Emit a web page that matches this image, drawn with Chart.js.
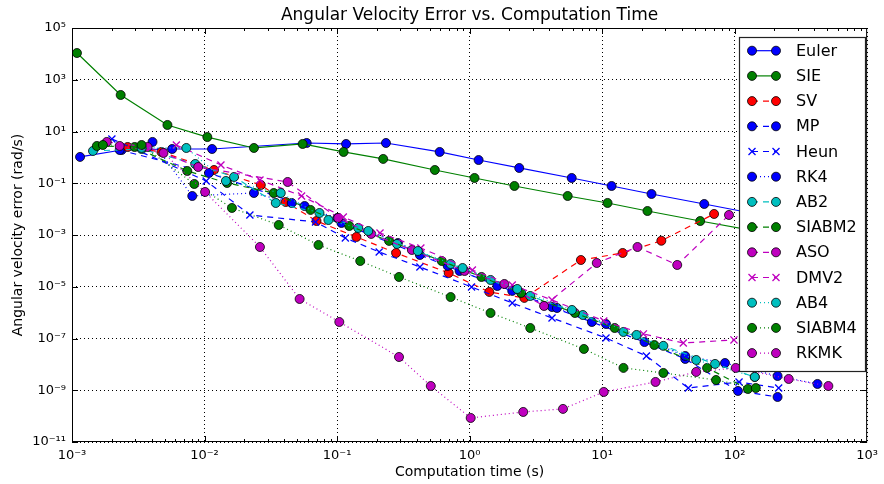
<!DOCTYPE html>
<html>
<head>
<meta charset="utf-8">
<script src="https://cdn.jsdelivr.net/npm/chart.js@4"></script>
<style>
  html, body { margin: 0; background: #fff; }
  canvas { display: block; }
</style>
</head>
<body>
<canvas id="errChart" width="884" height="484"></canvas>
<script>
// computation time (s) / angular velocity error (rad/s), one pair per method
const methodNames = ['Euler', 'SIE', 'SV', 'MP', 'Heun', 'RK4', 'AB2', 'SIABM2', 'ASO', 'DMV2', 'AB4', 'SIABM4', 'RKMK'];

const timeEuler = [1.15e-3, 2.37e-3, 5.7e-3, 1.14e-2, 5.9e-2, 0.117, 0.234, 0.595, 1.17, 2.37, 5.9, 11.8, 23.6, 59, 133];
const errEuler  = [1.04, 1.93, 2.11, 2.11, 3.6, 3.3, 3.6, 1.62, 0.79, 0.39, 0.16, 0.0785, 0.0385, 0.0158, 0.0071];

const timeSIE = [1.09e-3, 2.33e-3, 5.25e-3, 1.05e-2, 2.36e-2, 5.5e-2, 0.112, 0.223, 0.547, 1.09, 2.18, 5.5, 11.0, 22, 55, 145];
const errSIE  = [1.08e4, 258, 17.9, 6.1, 2.31, 3.3, 1.62, 0.87, 0.326, 0.16, 0.0785, 0.0322, 0.0173, 0.00846, 0.00347, 0.00142];

const timeSV = [2.63e-3, 4.73e-3, 1.18e-2, 2.66e-2, 4.1e-2, 7.0e-2, 0.14, 0.279, 0.696, 1.41, 2.59, 6.92, 14.3, 28, 70];
const errSV  = [2.52, 1.62, 0.326, 0.0858, 0.0189, 3.48e-3, 8.4e-4, 2.02e-4, 3.4e-5, 6.3e-6, 3.7e-6, 1.08e-4, 2.02e-4, 6.0e-4, 6.5e-3];

const timeMP = [2.29e-3, 1.08e-2, 5.69e-2, 0.108, 0.422, 0.841, 2.10, 4.19, 8.37, 20.9, 42.4, 106, 211];
const errMP  = [1.93, 0.249, 0.0132, 2.92e-3, 1.69e-4, 4.07e-5, 6.9e-6, 1.65e-6, 4.35e-7, 7.3e-8, 1.62e-8, 9.4e-10, 5.5e-10];

const timeHeun = [2.0e-3, 1.03e-2, 2.2e-2, 6.88e-2, 0.1155, 0.208, 0.422, 1.035, 2.10, 4.19, 10.7, 21.6, 44.7, 108, 215];
const errHeun  = [5.14, 0.1225, 5.94e-3, 3.19e-3, 7.7e-4, 2.21e-4, 5.8e-5, 9.8e-6, 2.36e-6, 6.2e-7, 1.05e-7, 2.11e-8, 1.22e-9, 2.09e-9, 1.22e-9];

const timeRK4 = [4.05e-3, 8.08e-3, 2.36e-2, 4.55e-2, 0.1006, 0.288, 0.684, 1.62, 4.57, 10.7, 42.4, 84.6, 211, 422];
const errRK4  = [3.95, 0.0322, 0.042, 0.0173, 4.55e-3, 4.9e-4, 6.4e-5, 1.07e-5, 1.51e-6, 3.65e-7, 2.11e-8, 1.13e-8, 3.56e-9, 1.75e-9];

const timeAB2 = [1.44e-3, 3.35e-3, 8.51e-3, 1.67e-2, 3.45e-2, 7.37e-2, 0.1445, 0.2835, 0.72, 1.44, 2.87, 7.16, 14.5, 29, 71.2, 142];
const errAB2  = [1.77, 2.11, 0.556, 0.175, 0.0173, 7.1e-3, 1.87e-3, 4.5e-4, 7.6e-5, 1.83e-5, 4.4e-6, 8.1e-7, 1.79e-7, 5.2e-8, 1.04e-8, 3.27e-9];

const timeSIABM2 = [1.54e-3, 2.97e-3, 7.41e-3, 1.48e-2, 3.33e-2, 6.31e-2, 0.1237, 0.247, 0.617, 1.23, 2.45, 6.24, 12.45, 24.8, 62, 126];
const errSIABM2  = [2.76, 2.52, 0.298, 0.1025, 0.042, 9.3e-3, 2.23e-3, 5.9e-4, 9.9e-5, 2.39e-5, 5.75e-6, 9.7e-7, 2.55e-7, 5.6e-8, 7.3e-9, 1.12e-9];

const timeASO = [1.83e-3, 3.72e-3, 8.96e-3, 4.24e-2, 0.102, 0.181, 0.367, 0.917, 1.83, 3.65, 9.12, 18.5, 36.9, 90.7];
const errASO  = [3.95, 2.52, 0.425, 0.112, 4.55e-3, 1.1e-3, 2.64e-4, 4.07e-5, 1.28e-5, 1.81e-6, 8.3e-5, 3.44e-4, 6.95e-5, 5.94e-3];

const timeDMV2 = [6.13e-3, 1.33e-2, 2.62e-2, 5.4e-2, 0.1115, 0.211, 0.429, 1.05, 2.10, 4.19, 10.3, 20.5, 41, 98.9];
const errDMV2  = [3.01, 0.508, 0.134, 0.0322, 4.98e-3, 1.2e-3, 3.15e-4, 4.45e-5, 1.17e-5, 3.08e-6, 4.76e-7, 1.5e-7, 6.7e-8, 8.8e-8];

const timeAB4 = [3.35e-3, 7.29e-3, 1.45e-2, 3.76e-2, 8.61e-2, 0.172, 0.407, 0.886, 2.29, 5.92, 18.2, 51.3, 142];
const errAB4  = [2.31, 2.31, 0.1225, 0.042, 3.8e-3, 1.43e-3, 2.41e-4, 5.3e-5, 8.2e-6, 1.27e-6, 1.37e-7, 1.48e-8, 3.27e-9];

const timeSIABM4 = [1.71e-3, 3.35e-3, 8.37e-3, 1.61e-2, 3.63e-2, 7.24e-2, 0.1496, 0.2935, 0.72, 1.44, 2.87, 7.29, 14.5, 29, 72.4, 144.5];
const errSIABM4  = [3.01, 3.01, 0.0937, 0.0111, 2.44e-3, 4.12e-4, 9.9e-5, 2.39e-5, 4.0e-6, 9.7e-7, 2.55e-7, 3.94e-8, 7.3e-9, 4.66e-9, 2.49e-9, 1.22e-9];

const timeRKMK = [2.29e-3, 4.9e-3, 1.01e-2, 2.62e-2, 5.22e-2, 0.104, 0.2935, 0.51, 1.02, 2.54, 5.07, 10.3, 25.3, 51.3, 102, 256, 510];
const errRKMK  = [2.76, 1.48, 0.046, 3.44e-4, 3.37e-6, 4.35e-7, 1.93e-8, 1.46e-9, 8.5e-11, 1.45e-10, 1.9e-10, 8.6e-10, 2.09e-9, 5.1e-9, 7.3e-9, 2.73e-9, 1.46e-9];

const xTickValues = [1e-3, 1e-2, 1e-1, 1, 10, 100, 1000];
const yTickValues = [1e-11, 1e-9, 1e-7, 1e-5, 1e-3, 1e-1, 10, 1000, 1e5];

// look of each method (matplotlib classic colours)
const BLUE = '#0000ff', GREEN = '#008000', RED = '#ff0000', CYAN = '#00bfbf', MAGENTA = '#bf00bf';
const DASH = { solid: [], dashed: [6, 5], dotted: [1, 3] };
const styles = [
  [BLUE, 'solid', 'o'], [GREEN, 'solid', 'o'], [RED, 'dashed', 'o'], [BLUE, 'dashed', 'o'],
  [BLUE, 'dashed', 'x'], [BLUE, 'dotted', 'o'], [CYAN, 'dashed', 'o'], [GREEN, 'dashed', 'o'],
  [MAGENTA, 'dashed', 'o'], [MAGENTA, 'dashed', 'x'], [CYAN, 'dotted', 'o'], [GREEN, 'dotted', 'o'],
  [MAGENTA, 'dotted', 'o']
];
const seriesData = [
  [timeEuler, errEuler], [timeSIE, errSIE], [timeSV, errSV], [timeMP, errMP],
  [timeHeun, errHeun], [timeRK4, errRK4], [timeAB2, errAB2], [timeSIABM2, errSIABM2],
  [timeASO, errASO], [timeDMV2, errDMV2], [timeAB4, errAB4], [timeSIABM4, errSIABM4],
  [timeRKMK, errRKMK]
];

const FONT = 'DejaVu Sans';
const SUP = { '-': '⁻', '0': '⁰', '1': '¹', '2': '²', '3': '³', '4': '⁴', '5': '⁵', '6': '⁶', '7': '⁷', '8': '⁸', '9': '⁹' };
const powLabel = v => '10' + String(Math.round(Math.log10(v))).split('').map(c => SUP[c]).join('');

const datasets = methodNames.map((name, i) => {
  const [color, dash, marker] = styles[i];
  const [xs, ys] = seriesData[i];
  const cross = marker === 'x';
  return {
    label: name,
    data: xs.map((x, j) => ({ x, y: ys[j] })),
    showLine: true,
    borderColor: color,
    backgroundColor: color,
    borderWidth: 1.2,
    borderDash: DASH[dash],
    pointStyle: cross ? 'crossRot' : 'circle',
    pointRadius: cross ? 5 : 4.5,
    pointBackgroundColor: color,
    pointBorderColor: cross ? color : '#000',
    pointBorderWidth: cross ? 1.3 : 0.8,
    order: methodNames.length - i
  };
});

function drawMarker(ctx, x, y, color, marker) {
  ctx.save();
  ctx.setLineDash([]);
  if (marker === 'x') {
    ctx.strokeStyle = color;
    ctx.lineWidth = 1.3;
    ctx.beginPath();
    ctx.moveTo(x - 3.5, y - 3.5); ctx.lineTo(x + 3.5, y + 3.5);
    ctx.moveTo(x - 3.5, y + 3.5); ctx.lineTo(x + 3.5, y - 3.5);
    ctx.stroke();
  } else {
    ctx.fillStyle = color;
    ctx.strokeStyle = '#000';
    ctx.lineWidth = 0.8;
    ctx.beginPath();
    ctx.arc(x, y, 4.5, 0, Math.PI * 2);
    ctx.fill();
    ctx.stroke();
  }
  ctx.restore();
}

const decorations = {
  id: 'decorations',
  afterDraw(chart) {
    const { ctx, chartArea: a, scales } = chart;
    ctx.save();
    // frame
    ctx.strokeStyle = '#000';
    ctx.lineWidth = 1;
    ctx.strokeRect(a.left + 0.5, a.top + 0.5, a.right - a.left - 1, a.bottom - a.top - 1);

    // inward tick marks
    ctx.beginPath();
    for (let d = -3; d <= 2; d++) {
      for (let k = 1; k <= 9; k++) {
        const px = Math.round(scales.x.getPixelForValue(k * Math.pow(10, d))) + 0.5;
        const len = k === 1 ? 6 : 3;
        ctx.moveTo(px, a.bottom); ctx.lineTo(px, a.bottom - len);
        ctx.moveTo(px, a.top); ctx.lineTo(px, a.top + len);
      }
    }
    yTickValues.forEach(v => {
      const py = Math.round(scales.y.getPixelForValue(v)) + 0.5;
      ctx.moveTo(a.left, py); ctx.lineTo(a.left + 6, py);
      ctx.moveTo(a.right, py); ctx.lineTo(a.right - 6, py);
    });
    ctx.stroke();

    // titles
    ctx.fillStyle = '#000';
    ctx.textAlign = 'center';
    ctx.textBaseline = 'middle';
    ctx.font = `17px "${FONT}"`;
    ctx.fillText('Angular Velocity Error vs. Computation Time', (a.left + a.right) / 2, 16);
    ctx.font = `14px "${FONT}"`;
    ctx.fillText('Computation time (s)', (a.left + a.right) / 2, 472);
    ctx.save();
    ctx.translate(18, (a.top + a.bottom) / 2);
    ctx.rotate(-Math.PI / 2);
    ctx.fillText('Angular velocity error (rad/s)', 0, 0);
    ctx.restore();

    // legend
    const lx = 739, ly = 37, lw = 126, lh = 334;
    ctx.fillStyle = '#fff';
    ctx.fillRect(lx, ly, lw, lh);
    ctx.strokeStyle = '#222';
    ctx.lineWidth = 1.2;
    ctx.strokeRect(lx + 0.5, ly + 0.5, lw, lh);
    ctx.font = `16px "${FONT}"`;
    ctx.textAlign = 'left';
    methodNames.forEach((name, i) => {
      const [color, dash, marker] = styles[i];
      const y = 50.7 + i * 25.2;
      ctx.strokeStyle = color;
      ctx.lineWidth = 1.2;
      ctx.setLineDash(DASH[dash]);
      ctx.beginPath();
      ctx.moveTo(752, y); ctx.lineTo(776, y);
      ctx.stroke();
      ctx.setLineDash([]);
      drawMarker(ctx, 752, y, color, marker);
      drawMarker(ctx, 776, y, color, marker);
      ctx.fillStyle = '#000';
      ctx.fillText(name, 796, y + 1);
    });
    ctx.restore();
  }
};

const tickFont = { family: FONT, size: 13 };

new Chart(document.getElementById('errChart').getContext('2d'), {
  type: 'scatter',
  data: { datasets },
  options: {
    responsive: false,
    animation: false,
    layout: { padding: { top: 28, right: 12, left: 0, bottom: 0 } },
    plugins: {
      legend: { display: false },
      tooltip: { enabled: false },
      title: { display: false }
    },
    scales: {
      x: {
        type: 'logarithmic',
        min: 1e-3,
        max: 1e3,
        afterBuildTicks: axis => { axis.ticks = xTickValues.map(v => ({ value: v })); },
        afterFit: axis => { axis.height = 42; },
        ticks: { callback: v => powLabel(v), autoSkip: false, maxRotation: 0, padding: 6, color: '#000', font: tickFont },
        grid: { color: '#000', lineWidth: 1, drawTicks: false },
        border: { display: false, dash: [1, 3] }
      },
      y: {
        type: 'logarithmic',
        min: 1e-11,
        max: 1e5,
        afterBuildTicks: axis => { axis.ticks = yTickValues.map(v => ({ value: v })); },
        afterFit: axis => { axis.width = 72; },
        ticks: { callback: v => powLabel(v), autoSkip: false, padding: 6, color: '#000', font: tickFont },
        grid: { color: '#000', lineWidth: 1, drawTicks: false },
        border: { display: false, dash: [1, 3] }
      }
    }
  },
  plugins: [decorations]
});
</script>
</body>
</html>
